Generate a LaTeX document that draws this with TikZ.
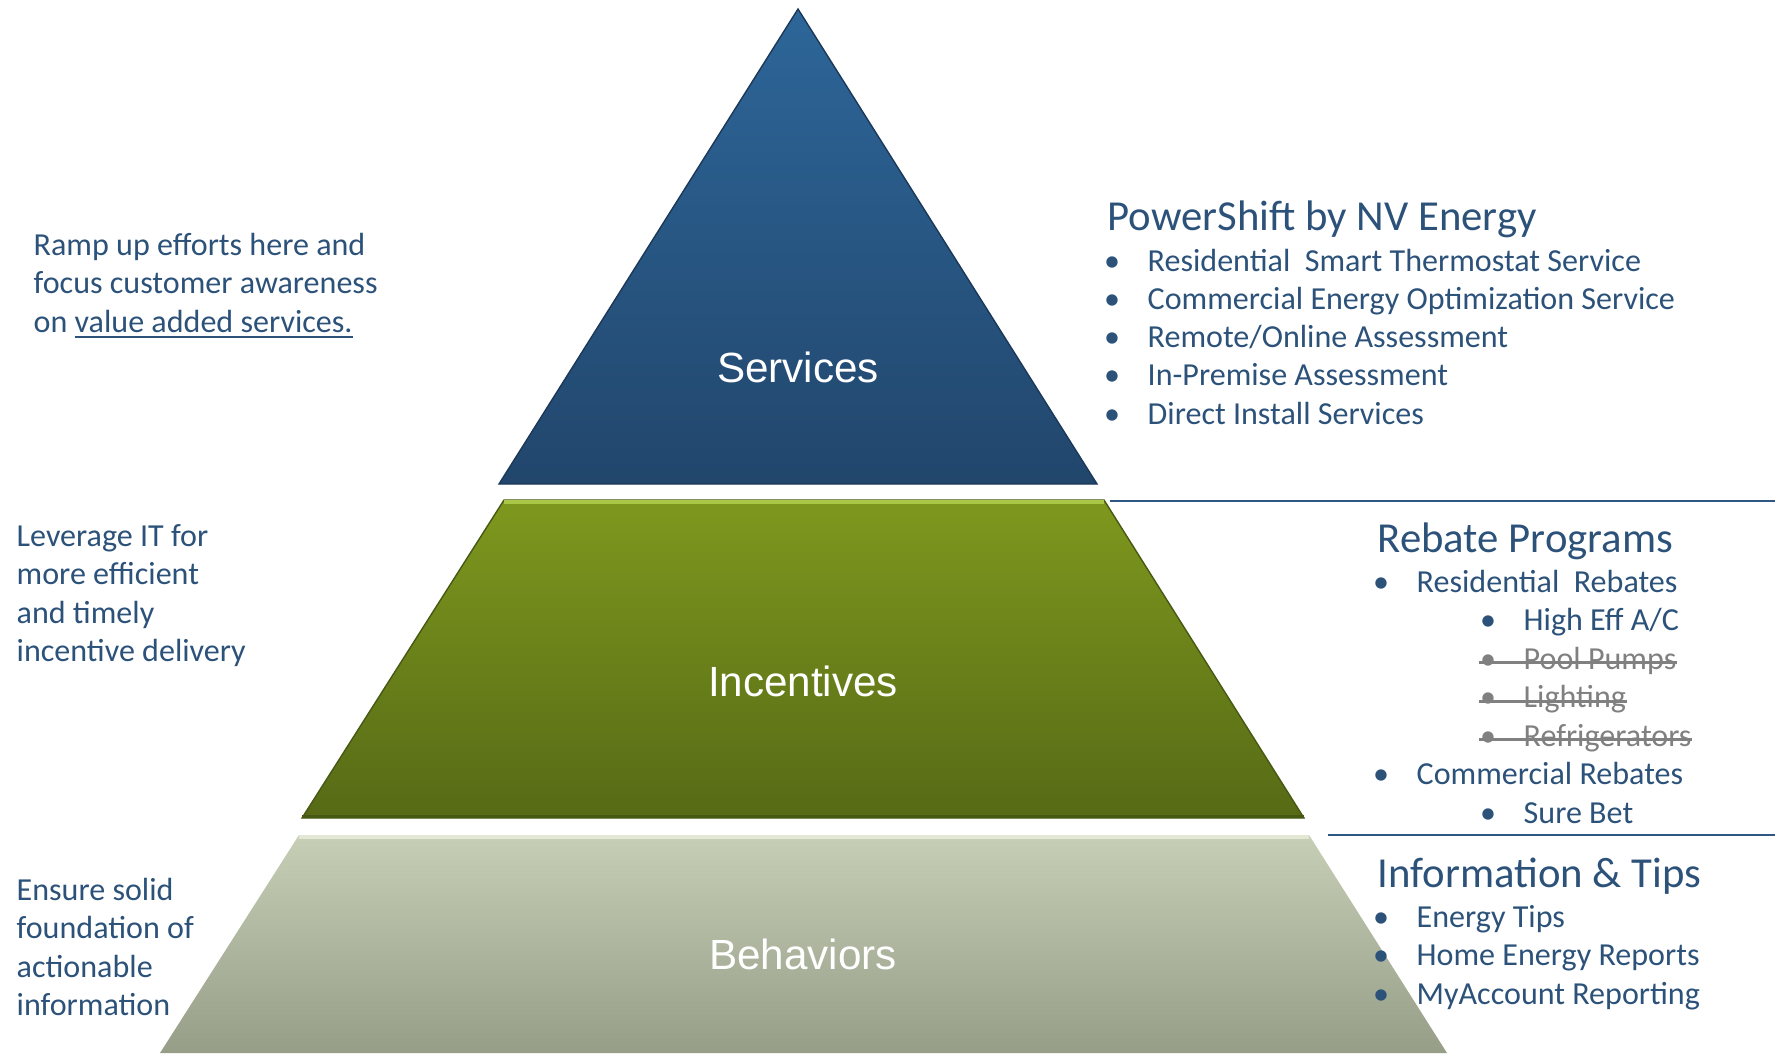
\documentclass[tikz,border=0pt]{standalone}
\usepackage{fontspec}
\setmainfont{Carlito}
\newfontfamily\tierfont{Liberation Sans}
\usepackage{tikz}

\definecolor{txtblue}{RGB}{44,82,122}
\definecolor{gonegray}{RGB}{128,128,128}
\definecolor{rulecol}{RGB}{46,88,132}
\definecolor{srvtop}{RGB}{45,102,153}
\definecolor{srvbot}{RGB}{34,70,108}
\definecolor{srvedge}{RGB}{28,56,88}
\definecolor{inctop}{RGB}{126,152,30}
\definecolor{incbot}{RGB}{86,106,22}
\definecolor{incedge}{RGB}{70,88,18}
\definecolor{inclight}{RGB}{170,198,70}
\definecolor{behtop}{RGB}{198,206,182}
\definecolor{behbot}{RGB}{150,158,136}
\definecolor{behlight}{RGB}{226,232,212}

\begin{document}
\begin{tikzpicture}[
    x=0.01cm, y=-0.01cm,
    note/.style={text=txtblue, font=\fontsize{9.12}{11}\selectfont, inner sep=0pt, anchor=base west},
    head/.style={note, font=\fontsize{12.15}{14}\selectfont},
    dot/.style={note, anchor=base},
    gone/.style={text=gonegray},
    strike/.style={draw=gonegray, line width=0.75pt},
    rule/.style={draw=rulecol, line width=0.7pt},
    tier label/.style={text=white, inner sep=0pt, font=\tierfont\fontsize{12}{14}\selectfont}
  ]

  \useasboundingbox (0,0) rectangle (1775,1053);

  % pyramid tiers
  \coordinate (apex) at (798,9);
  \coordinate (srv bl) at (499,484);
  \coordinate (srv br) at (1097,484);

  \coordinate (inc tl) at (504,500);
  \coordinate (inc tr) at (1104,500);
  \coordinate (inc bl) at (302,818);
  \coordinate (inc br) at (1304,818);

  \coordinate (beh tl) at (299,835);
  \coordinate (beh tr) at (1309,835);
  \coordinate (beh bl) at (160,1053);
  \coordinate (beh br) at (1447,1053);

  \shade[top color=srvtop, bottom color=srvbot, draw=srvedge, line width=0.4pt]
    (apex) -- (srv br) -- (srv bl) -- cycle;
  \shade[top color=inctop, bottom color=incbot, draw=incedge, line width=0.4pt]
    (inc tl) -- (inc tr) -- (inc br) -- (inc bl) -- cycle;
  \draw[inclight, line width=1.2pt] ([yshift=-0.6pt]inc tl) -- ([yshift=-0.6pt]inc tr);
  \draw[incedge, line width=1pt] ([yshift=0.5pt]inc bl) -- ([yshift=0.5pt]inc br);
  \shade[top color=behtop, bottom color=behbot]
    (beh tl) -- (beh tr) -- (beh br) -- (beh bl) -- cycle;
  \draw[behlight, line width=1.2pt] ([yshift=-0.6pt]beh tl) -- ([yshift=-0.6pt]beh tr);

  \node[tier label] (services) at (798,367) {Services};
  \node[tier label] (incentives) at (803,681) {Incentives};
  \node[tier label] (behaviors) at (803,954) {Behaviors};

  % separators
  \coordinate (rule1 a) at (1110,501);
  \coordinate (rule1 b) at (1775,501);
  \coordinate (rule2 a) at (1328,835);
  \coordinate (rule2 b) at (1775,835);
  \draw[rule] (rule1 a) -- (rule1 b);
  \draw[rule] (rule2 a) -- (rule2 b);

  % left notes
  \node[note] (ramp1) at (33,255) {Ramp up efforts here and};
  \node[note] (ramp2) at (33,293.5) {focus customer awareness};
  \node[note] (ramp3) at (33,332) {on \underline{value added services.}};

  \foreach \txt [count=\i from 0] in {Leverage IT for, more efficient, and timely, incentive delivery}
    \node[note] (lev\i) at (16,546+38.5*\i) {\txt};

  \foreach \txt [count=\i from 0] in {Ensure solid, foundation of, actionable, information}
    \node[note] (ens\i) at (16,900+38.5*\i) {\txt};

  % services list
  \node[head] (ps head) at (1107,230) {PowerShift by NV Energy};
  \foreach \txt [count=\i from 0] in {Residential~~Smart Thermostat Service,
      Commercial Energy Optimization Service, Remote/Online Assessment,
      In-Premise Assessment, Direct Install Services} {
    \node[dot] (ps dot\i) at (1112,271+38.3*\i) {•};
    \node[note] (ps\i) at (1147,271+38.3*\i) {\txt};
  }

  % rebate list
  \node[head] (rb head) at (1377,552) {Rebate Programs};
  \node[dot] (res dot) at (1381,592) {•};
  \node[note] (res) at (1416,592) {Residential~~Rebates};
  \node[dot] (hi dot) at (1488,630.5) {•};
  \node[note] (hi) at (1523,630.5) {High Eff A/C};
  \node[dot, gone] (pool dot) at (1488,669) {•};
  \node[note, gone] (pool) at (1523,669) {Pool Pumps};
  \node[dot, gone] (light dot) at (1488,707.5) {•};
  \node[note, gone] (light) at (1523,707.5) {Lighting};
  \node[dot, gone] (fridge dot) at (1488,746) {•};
  \node[note, gone] (fridge) at (1523,746) {Refrigerators};
  \node[dot] (com dot) at (1381,784.5) {•};
  \node[note] (com) at (1416,784.5) {Commercial Rebates};
  \node[dot] (sure dot) at (1488,823) {•};
  \node[note] (sure) at (1523,823) {Sure Bet};

  \draw[strike] ([yshift=1.8pt]pool dot.base west) -- ([yshift=1.8pt]pool.base east);
  \draw[strike] ([yshift=1.8pt]light dot.base west) -- ([yshift=1.8pt]light.base east);
  \draw[strike] ([yshift=1.8pt]fridge dot.base west) -- ([yshift=1.8pt]fridge.base east);

  % info list
  \node[head] (info head) at (1377,887) {Information \& Tips};
  \foreach \txt [count=\i from 0] in {Energy Tips, Home Energy Reports, MyAccount Reporting} {
    \node[dot] (info dot\i) at (1381,927+38.5*\i) {•};
    \node[note] (info\i) at (1416,927+38.5*\i) {\txt};
  }

\end{tikzpicture}
\end{document}
